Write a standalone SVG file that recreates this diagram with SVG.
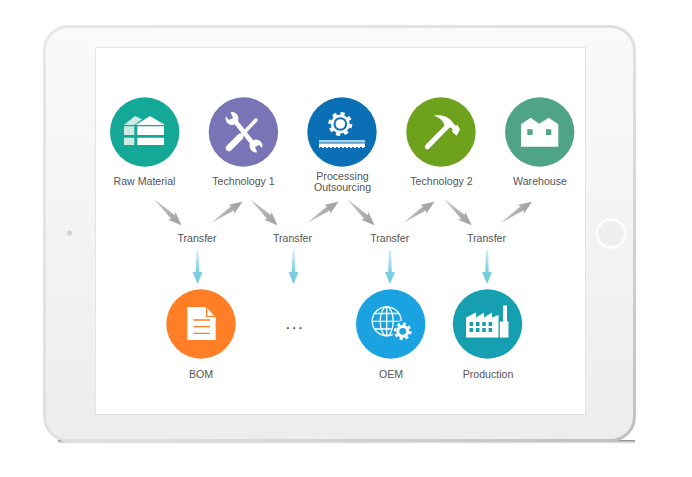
<svg xmlns="http://www.w3.org/2000/svg" xmlns:xlink="http://www.w3.org/1999/xlink" width="692" height="477" viewBox="0 0 692 477">
<style>
text{font-family:"Liberation Sans",Arial,sans-serif;font-size:10.600px;fill:#555;text-anchor:middle}
.w{fill:#fff}
.ws{fill:none;stroke:#fff;stroke-linecap:round}
</style>
<defs>
<linearGradient id="body" x1="0" y1="0" x2="0" y2="1"><stop offset="0" stop-color="#fafafa"/><stop offset="1" stop-color="#ededed"/></linearGradient>
<linearGradient id="edge" x1="0" y1="0" x2="1" y2="1"><stop offset="0" stop-color="#e8e8e8"/><stop offset=".6" stop-color="#dedede"/><stop offset="1" stop-color="#bfbfbf"/></linearGradient>
<linearGradient id="shadow" x1="0" y1="0" x2="0" y2="1"><stop offset="0" stop-color="#777"/><stop offset="1" stop-color="#ccc" stop-opacity="0"/></linearGradient>
<linearGradient id="grey" x1="0" y1="0" x2="1" y2="0"><stop offset="0" stop-color="#c4c4c4"/><stop offset="1" stop-color="#a0a0a0"/></linearGradient>
<linearGradient id="cyan" x1="0" y1="0" x2="1" y2="0"><stop offset="0" stop-color="#d6f0f5"/><stop offset=".6" stop-color="#7fd0df"/><stop offset="1" stop-color="#71cadb"/></linearGradient>
<polygon id="ag" points="0,0 26,-2.600 24.500,-5.400 38,0 24.500,5.400 26,2.600" fill="url(#grey)"/>
<polygon id="ac" points="0,-1 22,-1.800 22,-5 34,0 22,5 22,1.800 0,1" fill="url(#cyan)"/>
</defs>

<g id="tablet">
<rect x="58" y="440" width="577" height="4" fill="url(#shadow)"/>
<rect x="44.500" y="26.500" width="590" height="414" rx="24" fill="url(#body)" stroke="url(#edge)" stroke-width="3"/>
<rect x="95.500" y="47.500" width="490" height="367" fill="#fff" stroke="#e4e4e4"/>
<circle cx="69.500" cy="233" r="2.500" fill="#d2d2d2"/>
<circle cx="611" cy="233.500" r="14" fill="#efefef" stroke="#fff" stroke-width="2.500"/>
</g>

<g id="connectors">
<use xlink:href="#ag" href="#ag" transform="translate(154 199) rotate(43.500)"/>
<use xlink:href="#ag" href="#ag" transform="translate(211 223) rotate(-34)"/>
<use xlink:href="#ag" href="#ag" transform="translate(250 199) rotate(43.500)"/>
<use xlink:href="#ag" href="#ag" transform="translate(307 223) rotate(-34)"/>
<use xlink:href="#ag" href="#ag" transform="translate(347 199) rotate(43.500)"/>
<use xlink:href="#ag" href="#ag" transform="translate(403 223) rotate(-34)"/>
<use xlink:href="#ag" href="#ag" transform="translate(444 199) rotate(43.500)"/>
<use xlink:href="#ag" href="#ag" transform="translate(500.500 223) rotate(-34)"/>
<use xlink:href="#ac" href="#ac" transform="translate(197.500 250) rotate(90)"/>
<use xlink:href="#ac" href="#ac" transform="translate(293.500 250) rotate(90)"/>
<use xlink:href="#ac" href="#ac" transform="translate(390 250) rotate(90)"/>
<use xlink:href="#ac" href="#ac" transform="translate(487 250) rotate(90)"/>
</g>

<g id="transfer-labels">
<text x="197" y="242">Transfer</text>
<text x="292.500" y="242">Transfer</text>
<text x="389.700" y="242">Transfer</text>
<text x="486.500" y="242">Transfer</text>
</g>

<g id="raw-material">
<circle cx="144.700" cy="132" r="34.700" fill="#14a997"/>
<g transform="translate(95 85) scale(.3333)">
<path fill="#cdebe6" d="M87 120 120 93 141 103 118 120ZM87 124h31v26H87ZM87 158h31v22H87Z"/>
<path class="w" d="M122 120 165 93 210 120ZM127 124h80v26h-80ZM127 158h80v22h-80Z"/>
</g>
<text x="144.500" y="185">Raw Material</text>
</g>

<g id="technology-1">
<circle cx="243.400" cy="132" r="34.700" fill="#7974b5"/>
<path class="ws" stroke-width="6.500" d="M229 148 240 137"/>
<path class="ws" stroke-width="3.500" d="M240 137 256 120"/>
<path class="ws" stroke-width="4.500" d="M235 121 254 145"/>
<circle class="w" cx="232" cy="118.500" r="6.500"/>
<circle class="w" cx="256" cy="146" r="6.500"/>
<path fill="#7974b5" d="M223 113 230 111 233 118 229 120Z"/>
<path fill="#7974b5" d="M265 151 258 154 255 147 259 145Z"/>
<text x="243.500" y="185">Technology 1</text>
</g>

<g id="processing-outsourcing">
<circle cx="342" cy="132" r="34.700" fill="#0a6fb5"/>
<circle class="w" cx="340.300" cy="124" r="9.500"/>
<circle cx="340.300" cy="124" r="10.500" fill="none" stroke="#fff" stroke-width="3" stroke-dasharray="4.120 4.120"/>
<circle cx="340.300" cy="124" r="6.800" fill="#0a6fb5"/>
<circle class="w" cx="340.300" cy="124" r="4.800"/>
<rect x="319" y="140" width="46" height="2.500" fill="#a9d3ea"/>
<rect class="w" x="319" y="143.500" width="46" height="4.500"/>
<path d="M320 147.500H365" stroke="#0a6fb5" stroke-width="1.200" stroke-dasharray="2 2"/>
<text x="342.500" y="180">Processing</text>
<text x="342.500" y="191">Outsourcing</text>
</g>

<g id="technology-2">
<circle cx="441" cy="132" r="34.700" fill="#6ea11c"/>
<g transform="translate(340 85) scale(.3333)">
<path class="ws" stroke-width="15" d="M262 185 328 118"/>
<path class="w" d="M282 92C305 88 328 95 340 115L347 122 353 120 360 134 350 152 336 140 338 132 330 127 316 130 310 112C305 103 295 96 282 92Z"/>
</g>
<text x="441.500" y="185">Technology 2</text>
</g>

<g id="warehouse">
<circle cx="539.700" cy="132" r="34.700" fill="#4fa387"/>
<g transform="translate(340 85) scale(.3333)">
<path class="w" d="M543 118 572 98 598 116 626 98 655 118V185H543Z"/>
<path fill="#4fa387" d="M562 133h16v17h-16ZM618 133h16v17h-16Z"/>
</g>
<text x="540" y="185">Warehouse</text>
</g>

<g id="bom">
<circle cx="201" cy="324" r="34.700" fill="#ff7e26"/>
<g transform="translate(150 195) scale(.3333)">
<path class="w" d="M112 336H168V366H197V435H112Z"/>
<path class="w" d="M172 340 192 362H172Z"/>
<path d="M130 375H180M130 395H180M130 415H180" stroke="#ff7e26" stroke-width="4" fill="none"/>
</g>
<text x="201" y="378">BOM</text>
</g>

<g id="ellipsis">
<text x="294.800" y="329" style="font-size:17px;letter-spacing:1.500px;fill:#444">...</text>
</g>

<g id="oem">
<circle cx="390.700" cy="324" r="34.700" fill="#1aa3e0"/>
<g fill="none" stroke="#fff" stroke-width="1.300">
<circle cx="386.700" cy="321.300" r="14.500"/>
<ellipse cx="386.700" cy="321.300" rx="6.500" ry="14.500"/>
<path d="M386.700 306.800V335.800M372.200 321.300H401.200M374.500 313.500H399M374.500 329H399"/>
</g>
<circle cx="402.700" cy="331.300" r="10.500" fill="#1aa3e0"/>
<circle class="w" cx="402.700" cy="331.300" r="6.500"/>
<circle cx="402.700" cy="331.300" r="7.600" fill="none" stroke="#fff" stroke-width="2.600" stroke-dasharray="2.980 2.980"/>
<circle cx="402.700" cy="331.300" r="3.400" fill="#1aa3e0"/>
<text x="391" y="378">OEM</text>
</g>

<g id="production">
<circle cx="487.500" cy="324" r="34.700" fill="#169fb0"/>
<path class="w" d="M466 317.500 476 312.500V317.500L484 312.500V317.500L492 312.500V317.500L498.500 315V337.500H466Z"/>
<path class="w" d="M499.800 337.500V321.500H503V305.500H507V321.500H508.500V337.500Z"/>
<path fill="#169fb0" d="M469.500 322h3.500v4h-3.500ZM476 322h3.500v4H476ZM482.300 322h3.500v4h-3.500ZM488.600 322h3.500v4h-3.500ZM469.500 328h3.500v4h-3.500ZM476 328h3.500v4H476ZM482.300 328h3.500v4h-3.500ZM488.600 328h3.500v4h-3.500Z"/>
<text x="488" y="378">Production</text>
</g>
</svg>
